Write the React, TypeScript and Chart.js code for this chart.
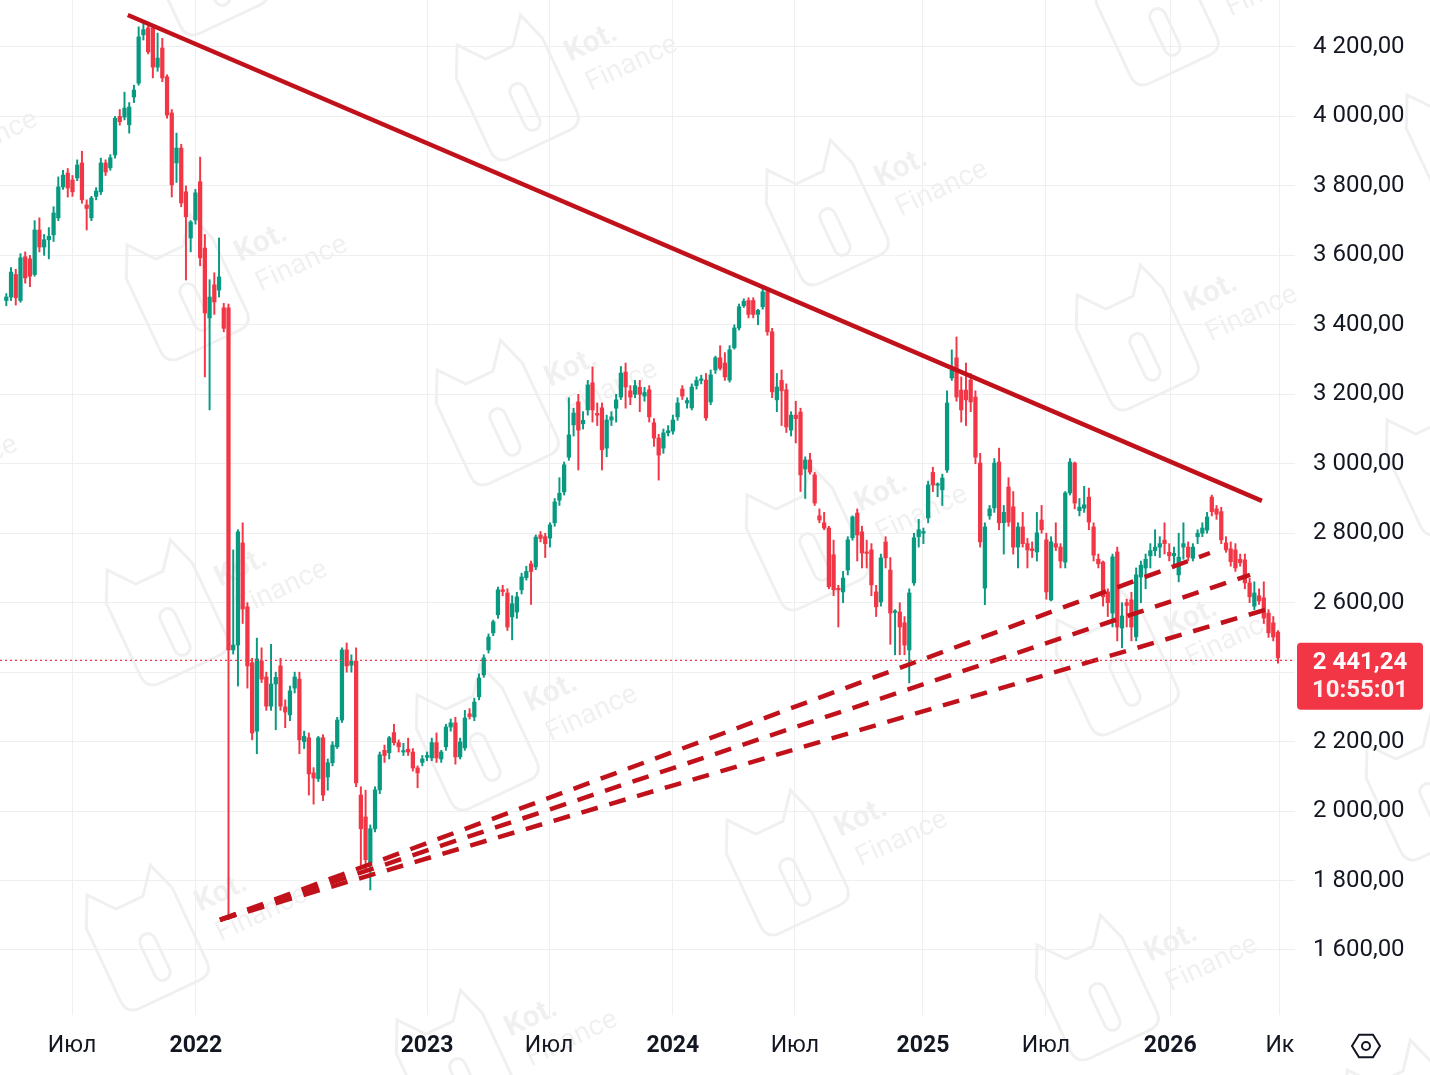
import { useEffect, useRef } from 'react'
import { Chart, registerables } from 'chart.js'

Chart.register(...registerables)

// weekly candles (index 0 = first visible week)
const OPEN = [
  3470, 3480, 3545, 3470, 3596, 3590, 3545, 3673, 3624, 3645,
  3659, 3708, 3797, 3837, 3817, 3823, 3866, 3745, 3708, 3770,
  3783, 3866, 3852, 3889, 4000, 3998, 3976, 4056, 4096, 4235,
  4255, 4255, 4142, 4197, 4114, 4010, 3866, 3909, 3783, 3650,
  3702, 3812, 3621, 3420, 3515, 3500, 3449, 3449,
  2464, 2478, 2772, 2588, 2427, 2230, 2432, 2386, 2302, 2366,
  2418, 2300, 2277, 2354, 2380, 2200, 2211, 2110, 2093, 2211,
  2098, 2139, 2185, 2262, 2464, 2420, 2432, 2046, 1983, 1850,
  1949, 2061, 2175, 2168, 2226, 2197, 2170, 2178, 2170, 2124,
  2140, 2155, 2153, 2197, 2150, 2185, 2242, 2254, 2156, 2182,
  2280, 2271, 2329, 2392, 2464, 2513, 2565, 2637, 2628, 2559,
  2573, 2637, 2672, 2712, 2703, 2795, 2790, 2786, 2830, 2895,
  2919, 3019, 3112, 3178, 3115, 3155, 3233, 3145, 3161, 3045,
  3126, 3160, 3192, 3264, 3210, 3200, 3220, 3195, 3213, 3118,
  3074, 3045, 3089, 3094, 3135, 3215, 3175, 3161, 3225, 3240,
  3241, 3178, 3270, 3305, 3290, 3241, 3334, 3391, 3455, 3470,
  3470, 3430, 3452, 3495, 3380, 3184, 3240, 3213, 3097, 3140,
  3149, 2985, 3011, 2968, 2850, 2830, 2815, 2738, 2640, 2631,
  2694, 2787, 2858, 2804, 2745, 2752, 2631, 2602, 2775, 2694,
  2572, 2573, 2542, 2464, 2657, 2790, 2800, 2844, 2975, 2938,
  2925, 2982, 3247, 3305, 3212, 3212, 3241, 3192, 3002, 2642,
  2850, 2873, 3005, 2830, 2933, 2876, 2760, 2818, 2770, 2755,
  2746, 2838, 2781, 2608, 2770, 2760, 2717, 2916, 3002, 2865,
  2872, 2904, 2818, 2725, 2717, 2631, 2570, 2746, 2527, 2600,
  2608, 2502, 2674, 2700, 2735, 2750, 2760, 2780, 2745, 2735,
  2680, 2760, 2760, 2728, 2790, 2800, 2809, 2904, 2870, 2862,
  2772, 2755, 2752, 2725, 2723, 2657, 2590, 2620, 2614, 2570,
  2542, 2515,
]
const HIGH = [
  3490, 3565, 3560, 3605, 3610, 3600, 3700, 3708, 3660, 3680,
  3740, 3826, 3845, 3850, 3830, 3875, 3900, 3760, 3770, 3795,
  3880, 3875, 3890, 4000, 4020, 4070, 4040, 4090, 4258, 4275,
  4270, 4265, 4240, 4225, 4120, 4020, 3952, 3920, 3800, 3700,
  3790, 3883, 3660, 3530, 3550, 3650, 3462, 3460,
  2752, 2810, 2830, 2600, 2440, 2498, 2470, 2400, 2480, 2400,
  2440, 2320, 2360, 2400, 2400, 2230, 2225, 2125, 2215, 2220,
  2150, 2200, 2270, 2470, 2484, 2450, 2470, 2070, 2060, 1960,
  2070, 2170, 2190, 2215, 2250, 2205, 2195, 2210, 2180, 2130,
  2160, 2170, 2210, 2225, 2175, 2250, 2265, 2270, 2210, 2290,
  2295, 2325, 2395, 2450, 2510, 2550, 2645, 2650, 2640, 2620,
  2630, 2685, 2705, 2720, 2795, 2805, 2800, 2830, 2900, 2960,
  3005, 3190, 3160, 3200, 3150, 3240, 3279, 3175, 3175, 3140,
  3150, 3200, 3280, 3290, 3225, 3240, 3240, 3220, 3225, 3130,
  3085, 3100, 3110, 3140, 3190, 3225, 3190, 3230, 3250, 3255,
  3260, 3270, 3310, 3340, 3320, 3340, 3400, 3460, 3475, 3478,
  3478, 3445, 3509, 3505, 3390, 3260, 3270, 3230, 3150, 3180,
  3160, 3020, 3030, 2975, 2870, 2860, 2820, 2780, 2650, 2690,
  2790, 2850, 2870, 2820, 2780, 2770, 2650, 2740, 2790, 2730,
  2580, 2600, 2560, 2640, 2800, 2840, 2815, 2950, 2990, 2945,
  2970, 3210, 3328, 3365, 3250, 3290, 3260, 3210, 3030, 2830,
  2880, 3015, 3045, 2880, 2960, 2920, 2830, 2860, 2785, 2775,
  2860, 2880, 2800, 2790, 2830, 2770, 2920, 3015, 3005, 2900,
  2935, 2930, 2830, 2740, 2720, 2640, 2740, 2760, 2600, 2610,
  2630, 2700, 2720, 2740, 2770, 2810, 2790, 2830, 2770, 2760,
  2800, 2830, 2775, 2770, 2810, 2830, 2860, 2910, 2880, 2875,
  2790, 2775, 2770, 2740, 2740, 2670, 2660, 2640, 2660, 2580,
  2560, 2520,
]
const LOW = [
  3455, 3470, 3457, 3465, 3520, 3510, 3540, 3610, 3600, 3590,
  3640, 3700, 3790, 3768, 3770, 3815, 3750, 3673, 3700, 3760,
  3775, 3830, 3845, 3880, 3975, 3990, 3952, 4040, 4090, 4220,
  4180, 4111, 4130, 4100, 3995, 3768, 3810, 3740, 3529, 3610,
  3690, 3570, 3250, 3155, 3430, 3480, 3380, 1687,
  2452, 2360, 2540, 2354, 2205, 2165, 2370, 2290, 2290, 2234,
  2290, 2240, 2260, 2340, 2165, 2180, 2046, 2020, 2085, 2030,
  2060, 2130, 2180, 2255, 2400, 2400, 2070, 1839, 1830, 1773,
  1940, 2050, 2140, 2150, 2190, 2170, 2160, 2160, 2115, 2067,
  2130, 2145, 2145, 2140, 2140, 2175, 2230, 2135, 2150, 2175,
  2265, 2260, 2320, 2385, 2455, 2505, 2555, 2620, 2520, 2493,
  2555, 2625, 2665, 2595, 2695, 2775, 2730, 2760, 2820, 2880,
  2910, 3010, 3080, 2982, 3100, 3140, 3120, 3110, 2982, 3020,
  3110, 3120, 3185, 3160, 3170, 3190, 3150, 3180, 3120, 3050,
  2953, 3030, 3080, 3085, 3125, 3185, 3160, 3155, 3215, 3230,
  3125, 3170, 3260, 3270, 3240, 3235, 3330, 3385, 3450, 3420,
  3420, 3400, 3445, 3370, 3190, 3150, 3110, 3090, 3080, 3060,
  2920, 2900, 2970, 2880, 2830, 2810, 2640, 2620, 2530, 2600,
  2680, 2780, 2720, 2700, 2700, 2620, 2560, 2590, 2700, 2480,
  2450, 2450, 2450, 2369, 2650, 2760, 2770, 2830, 2920, 2905,
  2880, 2975, 3240, 3180, 3120, 3110, 3150, 3000, 2760, 2594,
  2840, 2860, 2810, 2740, 2820, 2740, 2700, 2760, 2700, 2730,
  2720, 2800, 2610, 2605, 2750, 2700, 2700, 2910, 2870, 2850,
  2860, 2810, 2720, 2700, 2590, 2560, 2530, 2490, 2470, 2530,
  2490, 2490, 2600, 2640, 2700, 2735, 2730, 2740, 2720, 2700,
  2660, 2725, 2720, 2720, 2770, 2790, 2800, 2850, 2840, 2770,
  2745, 2705, 2690, 2705, 2640, 2600, 2580, 2595, 2540, 2500,
  2490, 2426,
]
const CLOSE = [
  3480, 3552, 3478, 3593, 3535, 3540, 3673, 3624, 3645, 3655,
  3722, 3797, 3831, 3794, 3783, 3860, 3760, 3735, 3765, 3785,
  3866, 3840, 3881, 3995, 3985, 4024, 4027, 4076, 4229, 4250,
  4186, 4142, 4168, 4111, 4004, 3803, 3909, 3751, 3711, 3696,
  3780, 3593, 3434, 3480, 3466, 3538, 3390, 2464,
  2478, 2804, 2582, 2418, 2225, 2438, 2380, 2302, 2366, 2385,
  2302, 2285, 2346, 2386, 2205, 2215, 2107, 2095, 2211, 2046,
  2139, 2190, 2262, 2464, 2418, 2432, 2081, 1949, 1860, 1949,
  2061, 2162, 2160, 2211, 2197, 2185, 2172, 2170, 2124, 2110,
  2150, 2160, 2197, 2153, 2170, 2242, 2254, 2156, 2199, 2268,
  2272, 2314, 2383, 2441, 2501, 2545, 2637, 2632, 2530, 2597,
  2617, 2674, 2690, 2690, 2789, 2785, 2770, 2824, 2890, 2915,
  2997, 3083, 3146, 3097, 3125, 3227, 3155, 3140, 3040, 3126,
  3135, 3184, 3261, 3221, 3192, 3225, 3200, 3205, 3135, 3074,
  3025, 3089, 3095, 3126, 3175, 3195, 3182, 3221, 3240, 3241,
  3132, 3256, 3305, 3275, 3250, 3328, 3391, 3452, 3468, 3430,
  3430, 3442, 3495, 3380, 3207, 3221, 3210, 3106, 3140, 3130,
  2968, 3011, 2976, 2887, 2838, 2815, 2646, 2637, 2637, 2671,
  2781, 2847, 2795, 2743, 2742, 2651, 2588, 2729, 2729, 2570,
  2575, 2530, 2478, 2628, 2787, 2810, 2805, 2939, 2939, 2942,
  2959, 3175, 3270, 3192, 3155, 3184, 3178, 3019, 2775, 2818,
  2870, 3002, 2830, 2860, 2832, 2760, 2818, 2770, 2752, 2750,
  2801, 2810, 2631, 2775, 2760, 2720, 2916, 3005, 2887, 2875,
  2882, 2832, 2737, 2712, 2617, 2600, 2732, 2530, 2562, 2592,
  2530, 2680, 2708, 2725, 2750, 2760, 2770, 2770, 2735, 2742,
  2731, 2770, 2731, 2760, 2800, 2815, 2847, 2862, 2855, 2781,
  2752, 2718, 2700, 2715, 2657, 2617, 2628, 2605, 2556, 2513,
  2501, 2441.24,
]

const X_TICKS = [13.9, 40.1, 89.0, 114.8, 141.0, 166.8, 193.9, 219.9, 246.2, 269.4]
const X_LABELS = ['Июл', '2022', '2023', 'Июл', '2024', 'Июл', '2025', 'Июл', '2026', 'Ик']
const Y_TICKS = [1600, 1800, 2000, 2200, 2400, 2600, 2800, 3000, 3200, 3400, 3600, 3800, 4000, 4200]

// drawn trend lines, in (week index, price)
const RESISTANCE = [{ x: 25.7, y: 4292 }, { x: 265.6, y: 2893 }]
const SUPPORT_FROM = { x: 45.2, y: 1687 }
const SUPPORT_TO = [{ x: 254.6, y: 2743 }, { x: 263.1, y: 2680 }, { x: 267.7, y: 2585 }]

const LAST_PRICE = 2441.24
const LAST_TIME = '10:55:01'

const UP = '#089981'
const DOWN = '#f23645'
const TREND = '#c1121c'
const FONT = 'Roboto'

const fmtPrice = (v: number) => {
  const [int, dec] = v.toFixed(2).split('.')
  return int.replace(/\B(?=(\d{3})+(?!\d))/g, ' ') + ',' + dec
}

const overlay = {
  id: 'overlay',
  beforeDraw(chart: any) {
    const { ctx, width, height } = chart
    ctx.save()
    ctx.fillStyle = '#ffffff'
    ctx.fillRect(0, 0, width, height)
    // faint "Kot. Finance" watermarks on a lattice
    ctx.strokeStyle = 'rgba(0,0,0,0.06)'
    ctx.fillStyle = 'rgba(0,0,0,0.06)'
    for (let m = -3; m <= 6; m++) {
      for (let n = -2; n <= 6; n++) {
        const cx = 600 + 310 * m - 330 * n
        const cy = 55 + 125 * m + 200 * n
        if (cx < -200 || cx > width + 200 || cy < -150 || cy > height + 150) continue
        ctx.save()
        ctx.translate(cx, cy)
        ctx.rotate(-0.44)
        ctx.lineWidth = 3
        ctx.beginPath()
        ctx.moveTo(-140, -40)
        ctx.lineTo(-125, -70)
        ctx.lineTo(-105, -45)
        ctx.lineTo(-75, -45)
        ctx.lineTo(-55, -70)
        ctx.lineTo(-45, -40)
        ctx.lineTo(-45, 40)
        ctx.quadraticCurveTo(-45, 55, -60, 55)
        ctx.lineTo(-125, 55)
        ctx.quadraticCurveTo(-140, 55, -140, 40)
        ctx.closePath()
        ctx.stroke()
        ctx.beginPath()
        ctx.roundRect(-98, -10, 16, 50, 8)
        ctx.stroke()
        ctx.font = `bold 30px ${FONT}`
        ctx.textAlign = 'left'
        ctx.textBaseline = 'middle'
        ctx.fillText('Kot.', -30, -14)
        ctx.font = `28px ${FONT}`
        ctx.fillText('Finance', -24, 22)
        ctx.restore()
      }
    }
    ctx.restore()
  },
  afterDraw(chart: any) {
    const { ctx, chartArea } = chart
    const y = chart.scales.y.getPixelForValue(LAST_PRICE)
    ctx.save()
    ctx.strokeStyle = DOWN
    ctx.lineWidth = 1.2
    ctx.setLineDash([2, 3])
    ctx.beginPath()
    ctx.moveTo(chartArea.left, y + 2.5)
    ctx.lineTo(chartArea.right, y + 2.5)
    ctx.stroke()
    ctx.setLineDash([])
    // price tag
    const tx = chartArea.right + 2
    ctx.fillStyle = DOWN
    ctx.beginPath()
    ctx.roundRect(tx, y - 15, 126, 67, 4)
    ctx.fill()
    ctx.fillStyle = '#ffffff'
    ctx.textAlign = 'center'
    ctx.textBaseline = 'middle'
    ctx.font = `bold 24px ${FONT}`
    ctx.fillText(fmtPrice(LAST_PRICE), tx + 63, y + 5)
    ctx.fillStyle = 'rgba(255,255,255,0.92)'
    ctx.fillText(LAST_TIME, tx + 63, y + 33)
    // settings icon
    const cx = chartArea.right + 71
    const cy = chartArea.bottom + 31
    ctx.strokeStyle = '#131722'
    ctx.lineWidth = 2
    ctx.beginPath()
    for (let k = 0; k < 6; k++) {
      const a = (Math.PI / 3) * k
      const px = cx + 14 * Math.cos(a)
      const py = cy + 13 * Math.sin(a)
      if (k === 0) ctx.moveTo(px, py)
      else ctx.lineTo(px, py)
    }
    ctx.closePath()
    ctx.stroke()
    ctx.beginPath()
    ctx.arc(cx, cy, 4, 0, Math.PI * 2)
    ctx.stroke()
    ctx.restore()
  },
}

export default function App() {
  const canvasRef = useRef<HTMLCanvasElement>(null)
  const chartRef = useRef<Chart | null>(null)

  useEffect(() => {
    if (!canvasRef.current) return
    if (chartRef.current) chartRef.current.destroy()

    const colors = OPEN.map((o, i) => (CLOSE[i] >= o ? UP : DOWN))
    const wicks = OPEN.map((o, i) => ({
      x: i,
      y: [Math.min(LOW[i], o, CLOSE[i]), Math.max(HIGH[i], o, CLOSE[i])],
    }))
    const bodies = OPEN.map((o, i) => ({ x: i, y: [o, CLOSE[i]] }))

    chartRef.current = new Chart(canvasRef.current, {
      type: 'bar',
      data: {
        datasets: [
          {
            type: 'line',
            data: RESISTANCE,
            borderColor: TREND,
            borderWidth: 4.5,
            pointRadius: 0,
            order: 0,
          } as any,
          ...SUPPORT_TO.map((end) => ({
            type: 'line',
            data: [SUPPORT_FROM, end],
            borderColor: TREND,
            borderWidth: 4.5,
            borderDash: [17, 12],
            pointRadius: 0,
            order: 0,
          })),
          {
            type: 'bar',
            data: bodies,
            backgroundColor: colors,
            barThickness: 3.6,
            minBarLength: 1.5,
            grouped: false,
            order: 1,
          },
          {
            type: 'bar',
            data: wicks,
            backgroundColor: colors,
            barThickness: 1.3,
            grouped: false,
            order: 2,
          },
        ] as any,
      },
      options: {
        animation: false,
        responsive: true,
        maintainAspectRatio: false,
        layout: { padding: 0 },
        plugins: { legend: { display: false }, tooltip: { enabled: false } },
        scales: {
          x: {
            type: 'linear',
            min: -1.333,
            max: 272.6,
            offset: false,
            grid: { color: '#efefef', drawTicks: false, offset: false },
            border: { display: false },
            afterBuildTicks: (s: any) => {
              s.ticks = X_TICKS.map((v) => ({ value: v }))
            },
            afterFit: (s: any) => {
              s.height = 60
              s.paddingLeft = 0
              s.paddingRight = 0
            },
            ticks: {
              autoSkip: false,
              maxRotation: 0,
              padding: 17,
              color: '#131722',
              font: (c: any) => ({
                family: FONT,
                size: 23,
                weight: /\d/.test(X_LABELS[c.index] || '') ? 'bold' : 'normal',
              }),
              callback: (_v: any, i: number) => X_LABELS[i],
            },
          },
          y: {
            type: 'linear',
            position: 'right',
            min: 1412.8,
            max: 4335.3,
            grid: { color: '#efefef', drawTicks: false },
            border: { display: false },
            afterBuildTicks: (s: any) => {
              s.ticks = Y_TICKS.map((v) => ({ value: v }))
            },
            afterFit: (s: any) => {
              s.width = 135
              s.paddingTop = 0
              s.paddingBottom = 0
            },
            ticks: {
              padding: 18,
              color: '#131722',
              font: { family: FONT, size: 24 },
              callback: (v: any) => (v === 2400 ? '' : fmtPrice(Number(v))),
            },
          },
        },
      } as any,
      plugins: [overlay],
    })

    return () => {
      if (chartRef.current) {
        chartRef.current.destroy()
        chartRef.current = null
      }
    }
  }, [])

  return (
    <div style={{ position: 'absolute', left: 0, top: 0, width: 1430, height: 1075, background: '#fff' }}>
      <canvas ref={canvasRef} />
    </div>
  )
}
